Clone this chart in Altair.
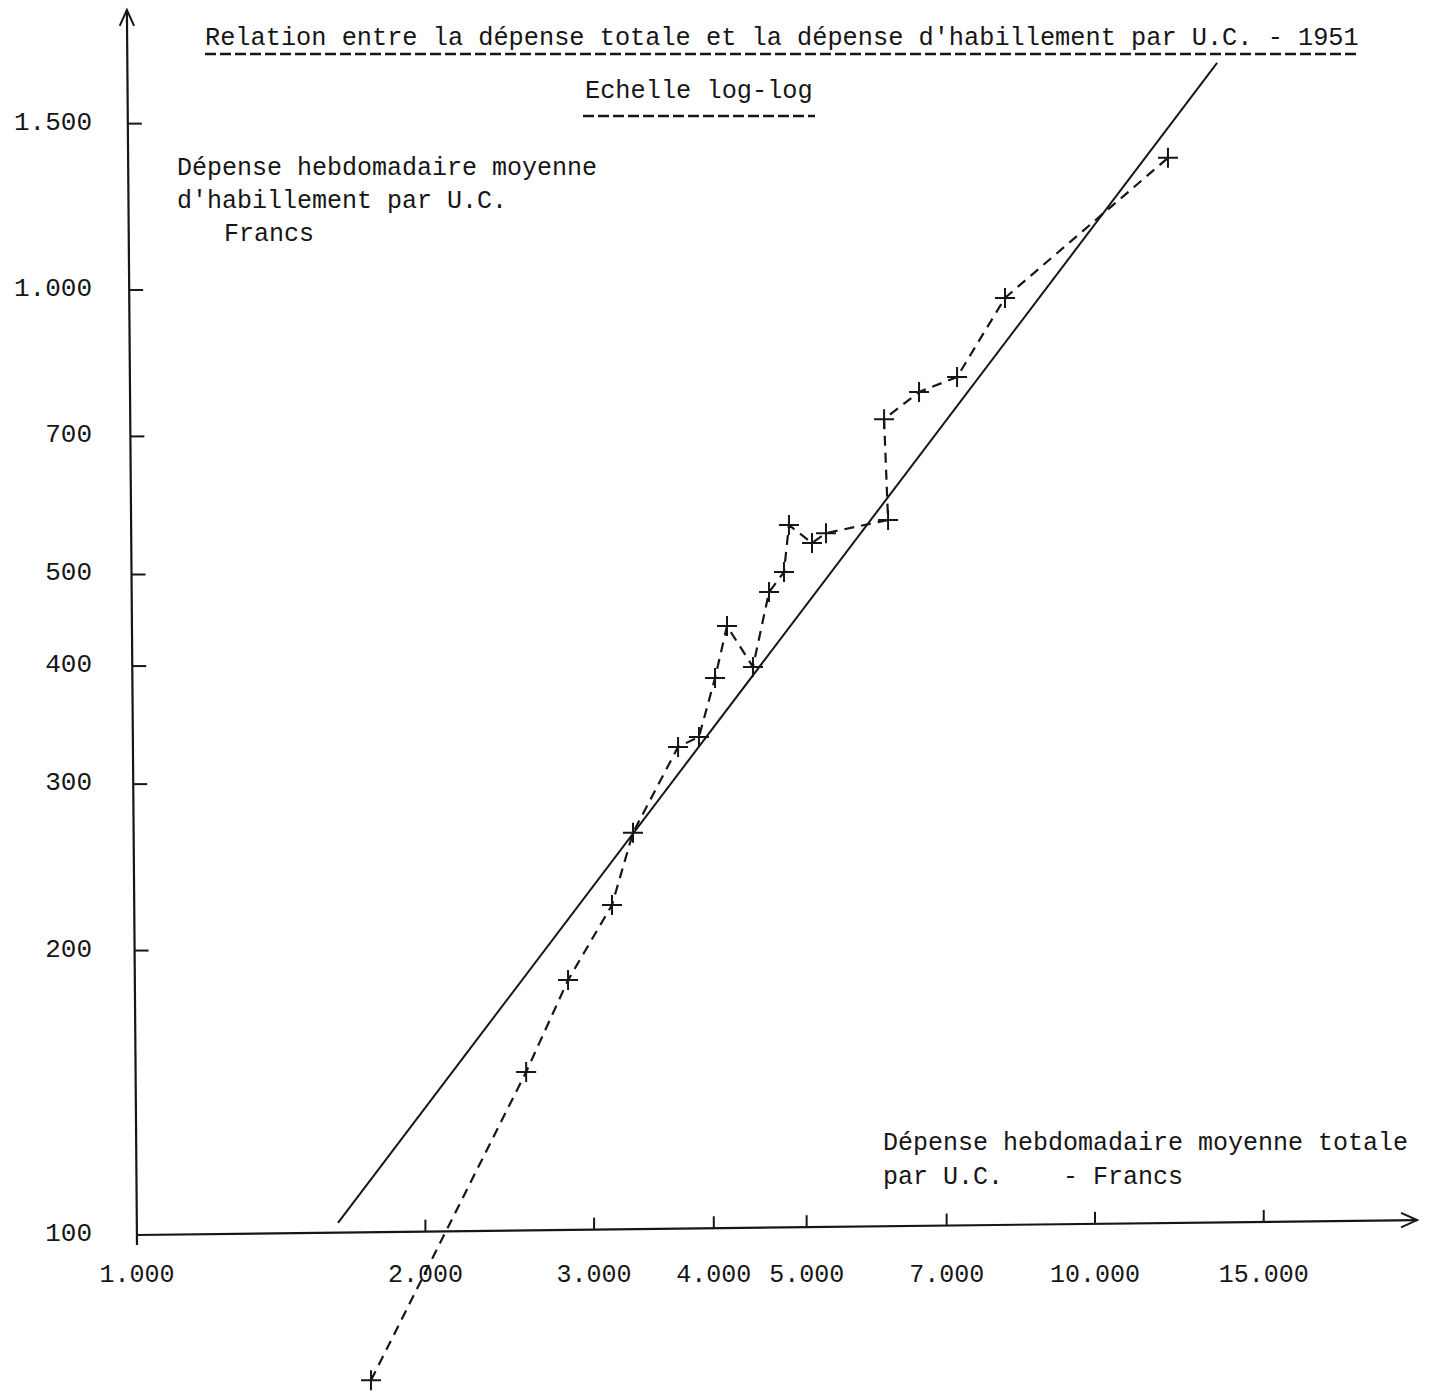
import altair as alt
import numpy as np
import pandas as pd

# ---- data (francs per U.C., weekly) ----
total_spend = [1755, 2548, 2818, 3132, 3294, 3671, 3860, 4012, 4129, 4395, 4568,
               4735, 4792, 5065, 5238, 6081, 6023, 6551, 7178, 8054, 11916]
clothing_spend = [70.2, 148.8, 186.1, 223.5, 266.5, 328.5, 336.6, 388.6, 441, 399.2, 479,
                  503, 564, 540, 553, 571, 730, 780, 809, 981, 1380]

# fitted straight line (log-log)
fit_total = [1621, 13410]
fit_clothing = [103.0, 1739]

# tick values and their typed labels
x_tick_values = [1000, 2000, 3000, 4000, 5000, 7000, 10000, 15000]
x_tick_labels = ["1.000", "2.000", "3.000", "4.000", "5.000", "7.000", "10.000", "15.000"]
y_tick_values = [100, 200, 300, 400, 500, 700, 1000, 1500]
y_tick_labels = ["100", "200", "300", "400", "500", "700", "1.000", "1.500"]

# hand-drawn axes (slightly skewed on the scan)
x_axis_total = [1000, 21685]
x_axis_clothing = [100, 103.7]
y_axis_total = [1000, 976]
y_axis_clothing = [97.6, 1979]

FONT = "Liberation Mono"
INK = "#161616"
NBSP = "\u00a0"

xs = alt.Scale(type="log", domain=[719.44, 22477], nice=False)
ys = alt.Scale(type="log", domain=[67.88, 2027.3], nice=False)


def X(f):
    return alt.X(f"{f}:Q", scale=xs, axis=None)


def Y(f):
    return alt.Y(f"{f}:Q", scale=ys, axis=None)


def X2(f):
    return alt.X2(f"{f}:Q")


def Y2(f):
    return alt.Y2(f"{f}:Q")


# ---- derived tables ----
pts = pd.DataFrame({"total": total_spend, "cloth": clothing_spend,
                    "seq": list(range(len(total_spend)))})
fit = pd.DataFrame({"x": [fit_total[0]], "x2": [fit_total[1]],
                    "y": [fit_clothing[0]], "y2": [fit_clothing[1]]})
axes = pd.DataFrame({"x": [x_axis_total[0], y_axis_total[0]],
                     "x2": [x_axis_total[1], y_axis_total[1]],
                     "y": [x_axis_clothing[0], y_axis_clothing[0]],
                     "y2": [x_axis_clothing[1], y_axis_clothing[1]]})

lx0, lx1 = np.log10(x_axis_total)
ly0, ly1 = np.log10(x_axis_clothing)
xt = pd.DataFrame({"v": x_tick_values, "lab": x_tick_labels})
t = (np.log10(xt["v"]) - lx0) / (lx1 - lx0)
xt["yaxis"] = 10 ** (ly0 + t * (ly1 - ly0))

vx0, vx1 = np.log10(y_axis_total)
vy0, vy1 = np.log10(y_axis_clothing)
yt = pd.DataFrame({"v": y_tick_values, "lab": y_tick_labels})
t2 = (np.log10(yt["v"]) - vy0) / (vy1 - vy0)
yt["xaxis"] = 10 ** (vx0 + t2 * (vx1 - vx0))

arrows = pd.DataFrame({"x": [x_axis_total[1]], "y": [x_axis_clothing[1]]})
arrows_up = pd.DataFrame({"x": [y_axis_total[1]], "y": [y_axis_clothing[1]]})

one = pd.DataFrame({"a": [0]})

# ---- layers ----
axis_lines = alt.Chart(axes).mark_rule(color=INK, strokeWidth=2.2).encode(
    x=X("x"), x2=X2("x2"), y=Y("y"), y2=Y2("y2"))

arrow_right = alt.Chart(arrows).mark_point(
    shape="M -1 -0.45 L 0 0 L -1 0.45", size=1024, filled=False,
    color=INK, strokeWidth=2, opacity=1).encode(x=X("x"), y=Y("y"))
arrow_up = alt.Chart(arrows_up).mark_point(
    shape="M -0.45 1 L 0 0 L 0.45 1", size=1024, filled=False,
    color=INK, strokeWidth=2, opacity=1).encode(x=X("x"), y=Y("y"))

x_ticks = alt.Chart(xt[xt["v"] > 1000]).mark_tick(
    orient="vertical", size=12, thickness=2, color=INK, yOffset=-6, opacity=1).encode(
    x=X("v"), y=Y("yaxis"))
y_ticks = alt.Chart(yt[yt["v"] > 100]).mark_tick(
    orient="horizontal", size=14, thickness=2, color=INK, xOffset=7, opacity=1).encode(
    x=X("xaxis"), y=Y("v"))

x_labels = alt.Chart(xt).mark_text(
    font=FONT, fontSize=25, color=INK, align="center", baseline="middle").encode(
    x=X("v"), y=alt.value(1274), text="lab:N")
y_labels = alt.Chart(yt).mark_text(
    font=FONT, fontSize=26, color=INK, align="right", baseline="middle", dy=-2).encode(
    x=alt.value(92), y=Y("v"), text="lab:N")

fit_line = alt.Chart(fit).mark_rule(color=INK, strokeWidth=2).encode(
    x=X("x"), x2=X2("x2"), y=Y("y"), y2=Y2("y2"))

data_line = alt.Chart(pts).mark_line(
    color=INK, strokeWidth=2.2, strokeDash=[10, 7]).encode(
    x=X("total"), y=Y("cloth"), order="seq:O")

crosses = alt.Chart(pts).mark_point(
    shape="M -1 0 L 1 0 M 0 -1 L 0 1", size=400, filled=False,
    color=INK, strokeWidth=2, opacity=1).encode(x=X("total"), y=Y("cloth"))


def note(text, x, y, align="left", size=25):
    return alt.Chart(one).mark_text(
        text=text.replace(" ", NBSP), font=FONT, fontSize=size, color=INK,
        align=align, baseline="middle").encode(x=alt.value(x), y=alt.value(y))


def underline(x1, x2, y):
    return alt.Chart(one).mark_rule(color=INK, strokeWidth=2.5, strokeDash=[11, 4]).encode(
        x=alt.value(x1), x2=alt.value(x2), y=alt.value(y))


title = note("Relation entre la dépense totale et la dépense d'habillement par U.C. - 1951",
             205, 37, size=25.3)
title_ul = underline(205, 1358, 54)
subtitle = note("Echelle log-log", 585, 90, size=25.3)
subtitle_ul = underline(583, 815, 116)

ytitle1 = note("Dépense hebdomadaire moyenne", 177, 167)
ytitle2 = note("d'habillement par U.C.", 177, 200)
ytitle3 = note("Francs", 224, 233)

xtitle1 = note("Dépense hebdomadaire moyenne totale", 883, 1142)
xtitle2 = note("par U.C.    - Francs", 883, 1176)

chart = alt.layer(
    axis_lines, arrow_right, arrow_up, x_ticks, y_ticks, x_labels, y_labels,
    fit_line, data_line, crosses,
    title, title_ul, subtitle, subtitle_ul,
    ytitle1, ytitle2, ytitle3, xtitle1, xtitle2,
).properties(
    width=1432, height=1394, padding=0,
    autosize=alt.AutoSizeParams(type="none"),
    background="white",
).configure_view(stroke=None)

chart.save("out.html", embed_options={"renderer": "svg", "actions": False})
